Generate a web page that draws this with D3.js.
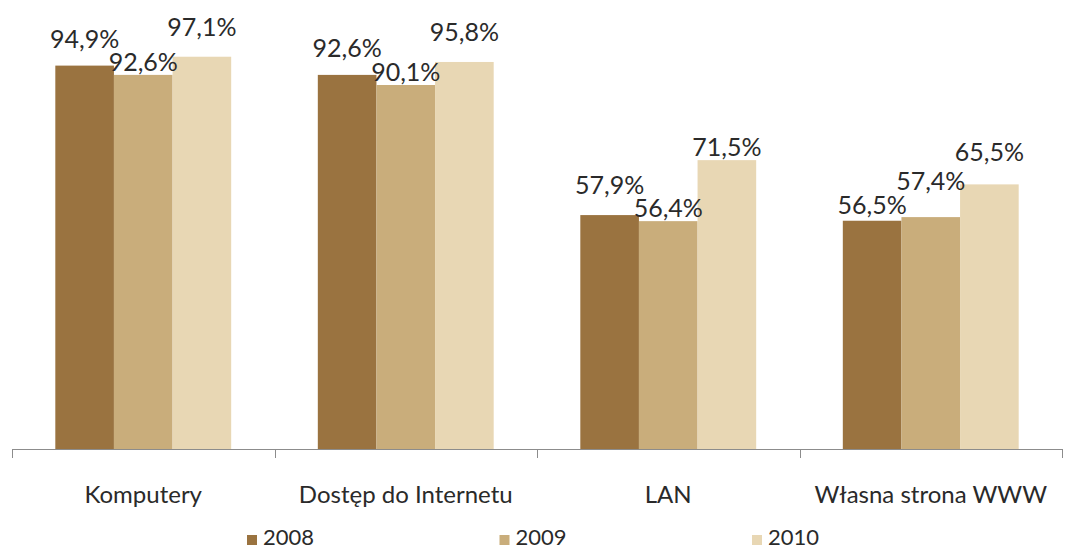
<!DOCTYPE html>
<html>
<head>
<meta charset="utf-8">
<script src="https://cdn.jsdelivr.net/npm/d3@7"></script>
<style>
  html, body { margin: 0; padding: 0; background: #fff; }
  svg { display: block; font-family: "Lato", "Open Sans", sans-serif; font-weight: 400; }
</style>
</head>
<body>
<svg id="chart" width="1066" height="550"></svg>
<script>
// Share of firms (%) by ICT item, per year
const categories = ["Komputery", "Dostęp do Internetu", "LAN", "Własna strona WWW"];
const years = ["2008", "2009", "2010"];
const values2008 = [94.9, 92.6, 57.9, 56.5];
const values2009 = [92.6, 90.1, 56.4, 57.4];
const values2010 = [97.1, 95.8, 71.5, 65.5];
const seriesValues = [values2008, values2009, values2010];
const colors = ["#9a7340", "#c9ad7b", "#e8d7b4"];

// vertical gap between a label's baseline and its bar top (labels are staggered to avoid overlap)
const labelGap = [
  [18, 18, 21, 7],
  [4, 4, 4, 27],
  [21, 21, 4, 23]
];

const svg = d3.select("#chart");
const margin = { left: 12, right: 4, top: 45, bottom: 101 };
const width = 1066, height = 550;
const baseline = height - margin.bottom;
const textColor = "#2a2a2a";

const x0 = d3.scaleBand()
  .domain(categories)
  .range([margin.left, width - margin.right])
  .paddingInner(0)
  .paddingOuter(0);

const groupPad = 0.165; // fraction of band left empty on each side
const x1 = d3.scaleBand()
  .domain(years)
  .range([0, x0.bandwidth() * (1 - 2 * groupPad)]);

const y = d3.scaleLinear()
  .domain([0, 100])
  .range([baseline, margin.top]);

const groups = svg.append("g")
  .selectAll("g")
  .data(categories)
  .join("g")
  .attr("transform", d => `translate(${x0(d) + x0.bandwidth() * groupPad},0)`);

groups.each(function(cat, ci) {
  const g = d3.select(this);
  years.forEach((yr, si) => {
    const v = seriesValues[si][ci];
    g.append("rect")
      .attr("x", x1(yr))
      .attr("y", y(v))
      .attr("width", x1.bandwidth())
      .attr("height", baseline - y(v))
      .attr("fill", colors[si]);
  });
  years.forEach((yr, si) => {
    const v = seriesValues[si][ci];
    g.append("text")
      .attr("x", x1(yr) + x1.bandwidth() / 2)
      .attr("y", y(v) - labelGap[si][ci])
      .attr("text-anchor", "middle")
      .attr("font-size", 25)
      .attr("fill", textColor)
      .text(d3.format(".1f")(v).replace(".", ",") + "%");
  });
});

// category axis with tick marks at band boundaries
const axisG = svg.append("g");
axisG.append("line")
  .attr("x1", x0.range()[0]).attr("x2", x0.range()[1])
  .attr("y1", baseline + 0.5).attr("y2", baseline + 0.5)
  .attr("stroke", "#8c8c8c").attr("stroke-width", 1);
const boundaries = categories.map(c => x0(c)).concat([x0.range()[1]]);
axisG.selectAll("line.tick")
  .data(boundaries)
  .join("line")
  .attr("class", "tick")
  .attr("x1", d => Math.round(d) + 0.5).attr("x2", d => Math.round(d) + 0.5)
  .attr("y1", baseline).attr("y2", baseline + 9)
  .attr("stroke", "#8c8c8c").attr("stroke-width", 1);
axisG.selectAll("text")
  .data(categories)
  .join("text")
  .attr("x", d => x0(d) + x0.bandwidth() / 2)
  .attr("y", 503)
  .attr("text-anchor", "middle")
  .attr("font-size", 24)
  .attr("fill", textColor)
  .text(d => d);

// legend
const legendX = d3.scalePoint().domain(years).range([247, 752]);
const legend = svg.append("g")
  .selectAll("g")
  .data(years)
  .join("g")
  .attr("transform", d => `translate(${legendX(d)},0)`);
legend.append("rect")
  .attr("x", 0).attr("y", 535)
  .attr("width", 10).attr("height", 10)
  .attr("fill", (d, i) => colors[i]);
legend.append("text")
  .attr("x", 16).attr("y", 545)
  .attr("font-size", 22)
  .attr("fill", textColor)
  .text(d => d);
</script>
</body>
</html>
